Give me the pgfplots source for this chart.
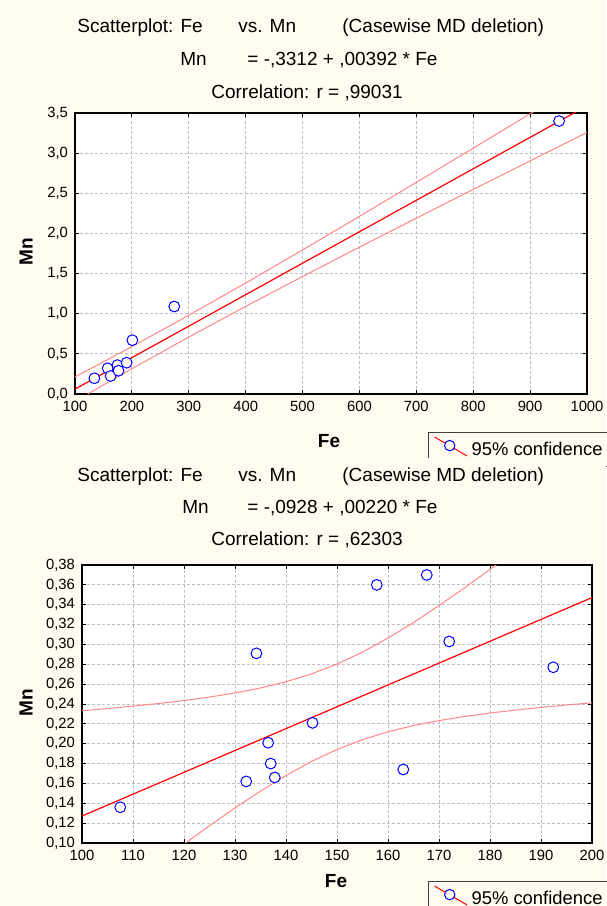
\documentclass[border=0pt]{standalone}
\usepackage{fontspec}
\setmainfont{Liberation Sans}
\usepackage{pgfplots}
\pgfplotsset{compat=1.18}

\definecolor{bgcream}{RGB}{255,251,240}
\definecolor{bandred}{RGB}{255,135,135}

\pgfplotsset{
  statstyle/.style={
    scale only axis,
    anchor=south west,
    axis background/.style={fill=white},
    grid=major,
    major grid style={gray!50, dash pattern=on 1.5pt off 1pt, line width=0.4pt},
    axis line style={black, line width=0.6pt},
    tick align=inside,
    major tick length=2pt,
    tick style={black, line width=0.5pt},
    ticklabel style={font=\fontsize{7.4}{8.5}\selectfont},
    /pgf/number format/assume math mode=true,
    /pgf/number format/use comma,
    /pgf/number format/1000 sep={},
    legend cell align=left,
    legend style={draw=black!75, line width=0.5pt, fill=bgcream,
      font=\fontsize{9.2}{10.5}\selectfont, inner xsep=3pt, inner ysep=2pt,
      anchor=north west},
  },
  regline/.style={red, line width=0.6pt, forget plot},
  bandline/.style={bandred, line width=0.5pt, forget plot},
  pts/.style={only marks, mark=*, mark size=2.7pt,
    mark options={draw=blue, fill=white, line width=0.5pt},
    legend image code/.code={
      \draw[red, line width=0.5pt] (0pt,6.6pt) -- (16.3pt,-2.9pt);
      \draw[blue, line width=0.5pt, fill=bgcream] (7.6pt,2.3pt) circle (2.6pt);
    }},
}

\newcommand{\ttl}{\fontsize{9.5}{11}\selectfont}
\newcommand{\lbl}{\fontsize{9.5}{11}\selectfont\bfseries}

\begin{document}
\begin{tikzpicture}
\useasboundingbox (0,0) rectangle (303pt,453pt);
\fill[bgcream] (0,0) rectangle (303pt,453pt);

% ---- top: all samples
\begin{axis}[statstyle,
  at={(37.5pt,256pt)}, width=256pt, height=140.5pt,
  xmin=100, xmax=1000, ymin=0, ymax=3.5,
  xtick={100,200,300,400,500,600,700,800,900,1000},
  ytick={0,0.5,1,1.5,2,2.5,3,3.5},
  yticklabel style={/pgf/number format/.cd, fixed, fixed zerofill, precision=1},
  legend style={at={(0.6885,-0.1352)}},
]
\addplot[bandline] coordinates {(100,0.2127) (150,0.4004) (200,0.5908) (300,0.9804) (400,1.3822) (500,1.7940) (600,2.2127) (700,2.6359) (800,3.0619) (900,3.4897) (1000,3.9188)};
\addplot[bandline] coordinates {(100,-0.0911) (150,0.1132) (200,0.3148) (300,0.7092) (400,1.0914) (500,1.4636) (600,1.8289) (700,2.1897) (800,2.5477) (900,2.9039) (1000,3.2588)};
\addplot[regline] coordinates {(100,0.0608) (1000,3.5888)};
\addplot[pts] coordinates {
  (134,0.196) (157.5,0.32) (162.7,0.224) (174.5,0.36) (176.5,0.29)
  (190.8,0.39) (200.8,0.67) (274.5,1.09) (951,3.40)};
\addlegendentry{95\% confidence}
\end{axis}

\fill[bgcream] (0,0) rectangle (303pt,224pt);

% ---- bottom: without the outlier
\begin{axis}[statstyle,
  at={(41pt,31.5pt)}, width=255pt, height=139pt,
  xmin=100, xmax=200, ymin=0.1, ymax=0.38,
  xtick={100,110,120,130,140,150,160,170,180,190,200},
  ytick={0.10,0.12,0.14,0.16,0.18,0.20,0.22,0.24,0.26,0.28,0.30,0.32,0.34,0.36,0.38},
  yticklabel style={/pgf/number format/.cd, fixed, fixed zerofill, precision=2},
  legend style={at={(0.6775,-0.1367)}},
]
\addplot[bandline] coordinates {(100,0.2332) (105,0.2354) (110,0.2379) (115,0.2405) (120,0.2435) (125,0.2470) (130,0.2511) (135,0.2561) (140,0.2624) (145,0.2703) (150,0.2802) (155,0.2923) (160,0.3064) (165,0.3221) (170,0.3391) (175,0.3570) (180,0.3755) (185,0.3945) (190,0.4139)};
\addplot[bandline] coordinates {(110,0.0605) (115,0.0799) (120,0.0989) (125,0.1174) (130,0.1353) (135,0.1523) (140,0.1680) (145,0.1821) (150,0.1942) (155,0.2041) (160,0.2120) (165,0.2183) (170,0.2233) (175,0.2274) (180,0.2309) (185,0.2339) (190,0.2365) (195,0.2390) (200,0.2412)};
\addplot[regline] coordinates {(100,0.1272) (200,0.3472)};
\addplot[pts] coordinates {
  (107.5,0.136) (132.2,0.162) (134.2,0.291) (136.5,0.201) (137.0,0.180)
  (137.8,0.166) (145.2,0.221) (157.8,0.360) (163.0,0.174) (167.6,0.370)
  (172.0,0.303) (192.4,0.277)};
\addlegendentry{95\% confidence}
\end{axis}

% ---- titles and axis names
\node[font=\ttl, anchor=base west, inner sep=0] at (38.5pt,436.5pt) {Scatterplot: Fe};
\node[font=\ttl, anchor=base west, inner sep=0] at (119pt,436.5pt) {vs. Mn};
\node[font=\ttl, anchor=base west, inner sep=0] at (171pt,436.5pt) {(Casewise MD deletion)};
\node[font=\ttl, anchor=base west, inner sep=0] at (90pt,420pt) {Mn};
\node[font=\ttl, anchor=base west, inner sep=0] at (123.5pt,420pt) {= -,3312 + ,00392 * Fe};
\node[font=\ttl, anchor=base, inner sep=0] at (153.5pt,403.5pt) {Correlation: r = ,99031};
\node[font=\lbl, rotate=90, inner sep=0] at (13pt,327pt) {Mn};
\node[font=\lbl, inner sep=0] at (164.5pt,232.5pt) {Fe};

\node[font=\ttl, anchor=base west, inner sep=0] at (38.5pt,212pt) {Scatterplot: Fe};
\node[font=\ttl, anchor=base west, inner sep=0] at (119pt,212pt) {vs. Mn};
\node[font=\ttl, anchor=base west, inner sep=0] at (171pt,212pt) {(Casewise MD deletion)};
\node[font=\ttl, anchor=base west, inner sep=0] at (91pt,196pt) {Mn};
\node[font=\ttl, anchor=base west, inner sep=0] at (123.5pt,196pt) {= -,0928 + ,00220 * Fe};
\node[font=\ttl, anchor=base, inner sep=0] at (153.5pt,180pt) {Correlation: r = ,62303};
\node[font=\lbl, rotate=90, inner sep=0] at (13pt,101.5pt) {Mn};
\node[font=\lbl, inner sep=0] at (168pt,12.5pt) {Fe};
\end{tikzpicture}
\end{document}
